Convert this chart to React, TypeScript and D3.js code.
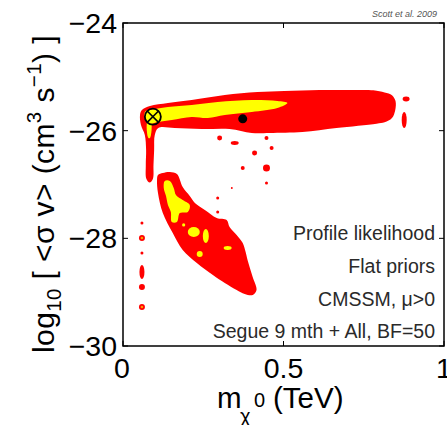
import React from "react";
import * as d3 from "d3";

// ---- data (x: neutralino mass in TeV, y: log10 <sigma v>) ----
const xTicks = [0, 0.5, 1];
const xTickLabels = ["0", "0.5", "1"];
const yTicks = [-30, -28, -26, -24];
const yTickLabels = ["\u221230", "\u221228", "\u221226", "\u221224"];

// 2-sigma (red) region: upper band + low-mass strip
const redBand: [number, number][] = [
  [0.059, -25.616], [0.084, -25.542], [0.140, -25.486], [0.214, -25.430],
  [0.317, -25.338], [0.419, -25.282], [0.503, -25.263], [0.612, -25.245],
  [0.705, -25.245], [0.780, -25.250], [0.815, -25.290], [0.838, -25.340],
  [0.849, -25.450], [0.848, -25.620], [0.838, -25.765],
  [0.815, -25.845], [0.790, -25.870], [0.665, -25.951], [0.559, -26.025],
  [0.457, -26.043], [0.401, -26.043], [0.332, -25.969], [0.245, -25.969],
  [0.161, -25.951], [0.110, -25.951], [0.099, -26.081], [0.097, -26.359],
  [0.095, -26.638], [0.093, -26.900], [0.083, -26.965], [0.073, -26.900],
  [0.071, -26.638], [0.072, -26.359], [0.068, -26.081], [0.056, -25.895],
  [0.053, -25.709],
];
// 2-sigma (red) region: lower diagonal island
const redIsland: [number, number][] = [
  [0.106, -26.917], [0.109, -26.824], [0.124, -26.787], [0.146, -26.768],
  [0.168, -26.805], [0.186, -27.047], [0.208, -27.214], [0.224, -27.344],
  [0.255, -27.474], [0.292, -27.623], [0.323, -27.660], [0.332, -27.790],
  [0.354, -27.938], [0.373, -28.087], [0.382, -28.254], [0.388, -28.403],
  [0.404, -28.719], [0.416, -28.960], [0.404, -29.053], [0.379, -29.034],
  [0.354, -28.960], [0.317, -28.830], [0.280, -28.681], [0.230, -28.459],
  [0.186, -28.217], [0.155, -27.901], [0.124, -27.530], [0.109, -27.158],
];
// 1-sigma (yellow) regions
const yellowBand: [number, number][] = [
  [0.068, -25.653], [0.099, -25.598], [0.140, -25.560], [0.214, -25.523],
  [0.295, -25.468], [0.401, -25.430], [0.481, -25.449], [0.512, -25.486],
  [0.481, -25.579], [0.401, -25.653], [0.317, -25.709], [0.264, -25.765],
  [0.214, -25.746], [0.152, -25.802], [0.109, -25.839], [0.078, -25.876],
];
const yellowThread: [number, number][] = [
  [0.076, -25.84], [0.087, -25.84], [0.084, -26.136], [0.079, -26.136],
];
const yellowIsland: [number, number][] = [
  [0.130, -26.935], [0.146, -26.935], [0.158, -27.065], [0.165, -27.195],
  [0.186, -27.288], [0.208, -27.381], [0.202, -27.511], [0.177, -27.530],
  [0.168, -27.697], [0.152, -27.697], [0.149, -27.511], [0.140, -27.381],
  [0.134, -27.214], [0.127, -27.065],
];
// small isolated 1-sigma spots: [x, y, halfWidth(TeV), halfHeight(dex)]
const yellowSpots: [number, number, number, number][] = [
  [0.2205, -27.883, 0.0186, 0.093],
  [0.258, -27.957, 0.0093, 0.130],
  [0.239, -28.291, 0.0093, 0.056],
  [0.326, -28.180, 0.0124, 0.037],
  [0.189, -27.75, 0.005, 0.028],
];
// small isolated 2-sigma spots
const redSpots: [number, number, number, number][] = [
  [0.301, -26.136, 0.0078, 0.046],
  [0.348, -26.229, 0.0124, 0.037],
  [0.410, -26.415, 0.0078, 0.046],
  [0.447, -26.136, 0.0062, 0.037],
  [0.463, -26.322, 0.0062, 0.037],
  [0.373, -26.694, 0.0062, 0.037],
  [0.447, -26.694, 0.0109, 0.065],
  [0.447, -26.972, 0.0047, 0.028],
  [0.295, -27.251, 0.0047, 0.028],
  [0.295, -27.511, 0.0047, 0.028],
  [0.339, -27.065, 0.003, 0.02],
  [0.882, -25.412, 0.0109, 0.046],
  [0.876, -25.802, 0.0078, 0.149],
  [0.059, -27.715, 0.0047, 0.028],
  [0.059, -27.994, 0.0093, 0.056],
  [0.059, -28.273, 0.0047, 0.028],
  [0.059, -28.626, 0.0078, 0.130],
  [0.059, -28.904, 0.0093, 0.056],
  [0.059, -29.276, 0.0093, 0.056],
];
const orangeSpots: [number, number][] = [
  [0.059, -27.994],
  [0.059, -29.276],
];
const bestFit: [number, number] = [0.093, -25.74];
const posteriorMean: [number, number] = [0.373, -25.78];
const notes = [
  "Profile likelihood",
  "Flat priors",
  "CMSSM, \u03bc>0",
  "Segue 9 mth + All, BF=50",
];
const noteY = [-28.03, -28.644, -29.257, -29.852];

export default function App() {
  const x = d3.scaleLinear().domain([0, 1]).range([123, 444]);
  const y = d3.scaleLinear().domain([-30, -24]).range([346, 23]);
  const line = d3
    .line<[number, number]>()
    .x((d) => x(d[0]))
    .y((d) => y(d[1]))
    .curve(d3.curveCatmullRomClosed.alpha(0.5));
  const x0 = x(0), x1 = x(1), yTop = y(-24), yBot = y(-30);
  const tick = 5;
  const font = "'Liberation Sans', Arial, Helvetica, sans-serif";
  const ell = (d: [number, number, number, number], fill: string, i: number) => (
    <ellipse
      key={i}
      cx={x(d[0])}
      cy={y(d[1])}
      rx={x(d[0] + d[2]) - x(d[0])}
      ry={y(d[1] - d[3]) - y(d[1])}
      fill={fill}
    />
  );
  const bf = { cx: x(bestFit[0]), cy: y(bestFit[1]) };
  const r = 8;
  const k = r * Math.SQRT1_2;
  return (
    <svg
      width={447}
      height={425}
      style={{ position: "absolute", left: 0, top: 0, background: "#fff" }}
      fontFamily={font}
    >
      <defs>
        <filter id="soft" x="-5%" y="-5%" width="110%" height="110%">
          <feGaussianBlur stdDeviation="0.7" />
        </filter>
        <clipPath id="plot">
          <rect x={x0} y={yTop} width={x1 - x0} height={yBot - yTop} />
        </clipPath>
      </defs>
      <g clipPath="url(#plot)">
        <g filter="url(#soft)">
          <path d={line(redBand) || ""} fill="#ff0000" />
          <path d={line(redIsland) || ""} fill="#ff0000" />
          {redSpots.map((d, i) => ell(d, "#ff0000", i))}
          <path d={line(yellowBand) || ""} fill="#ffff00" />
          <path d={line(yellowThread) || ""} fill="#ffff00" />
          <path d={line(yellowIsland) || ""} fill="#ffff00" />
          {yellowSpots.map((d, i) => ell(d, "#ffff00", 100 + i))}
          {orangeSpots.map((d, i) => (
            <circle key={i} cx={x(d[0])} cy={y(d[1])} r={1.3} fill="#ff9a00" />
          ))}
        </g>
        {/* best fit */}
        <circle cx={bf.cx} cy={bf.cy} r={r} fill="none" stroke="#000" strokeWidth={1.8} />
        <line x1={bf.cx - k} y1={bf.cy - k} x2={bf.cx + k} y2={bf.cy + k} stroke="#000" strokeWidth={1.6} />
        <line x1={bf.cx - k} y1={bf.cy + k} x2={bf.cx + k} y2={bf.cy - k} stroke="#000" strokeWidth={1.6} />
        {/* posterior mean */}
        <circle cx={x(posteriorMean[0])} cy={y(posteriorMean[1])} r={4.5} fill="#000" />
      </g>

      {/* frame */}
      <rect x={x0} y={yTop} width={x1 - x0} height={yBot - yTop} fill="none" stroke="#000" strokeWidth={1.5} />
      {xTicks.map((t, i) => (
        <g key={"xt" + i}>
          <line x1={x(t)} x2={x(t)} y1={yBot} y2={yBot - tick} stroke="#000" strokeWidth={1} />
          <line x1={x(t)} x2={x(t)} y1={yTop} y2={yTop + tick} stroke="#000" strokeWidth={1} />
          <text x={x(t) - (i === 0 ? 1 : 0)} y={378} fontSize={28.5} textAnchor="middle" fill="#000">
            {xTickLabels[i]}
          </text>
        </g>
      ))}
      {yTicks.map((t, i) => (
        <g key={"yt" + i}>
          <line x1={x0} x2={x0 + tick} y1={y(t)} y2={y(t)} stroke="#000" strokeWidth={1} />
          <line x1={x1} x2={x1 - tick} y1={y(t)} y2={y(t)} stroke="#000" strokeWidth={1} />
          <text x={117} y={y(t) + 10} fontSize={28.5} textAnchor="end" fill="#000">
            {yTickLabels[i]}
          </text>
        </g>
      ))}

      {/* x label */}
      <text y={408} fontSize={29.5} fill="#000">
        <tspan x={217}>m</tspan>
        <tspan x={240} y={423} fontSize={20}>{"\u03c7"}</tspan>
        <tspan x={254} y={407} fontSize={20}>0</tspan>
        <tspan x={273} y={408} fontSize={29.5}>(TeV)</tspan>
      </text>

      {/* y label */}
      <text transform="translate(54,353) rotate(-90)" fontSize={30} letterSpacing={0.4} fill="#000">
        <tspan>log</tspan>
        <tspan fontSize={20.5} dy={7}>10</tspan>
        <tspan dy={-7}>{" [ <\u03c3 v> (cm"}</tspan>
        <tspan fontSize={20.5} dy={-13}>3</tspan>
        <tspan dy={13}>{" s"}</tspan>
        <tspan fontSize={20.5} dy={-13}>{"\u22121"}</tspan>
        <tspan dy={13}>{") ]"}</tspan>
      </text>

      {/* annotations */}
      {notes.map((n, i) => (
        <text key={i} x={435} y={y(noteY[i])} fontSize={19.5} textAnchor="end" fill="#2a2a2a">
          {n}
        </text>
      ))}
      <text x={437} y={17} fontSize={9} fontStyle="italic" textAnchor="end" fill="#555">
        Scott et al. 2009
      </text>
    </svg>
  );
}
